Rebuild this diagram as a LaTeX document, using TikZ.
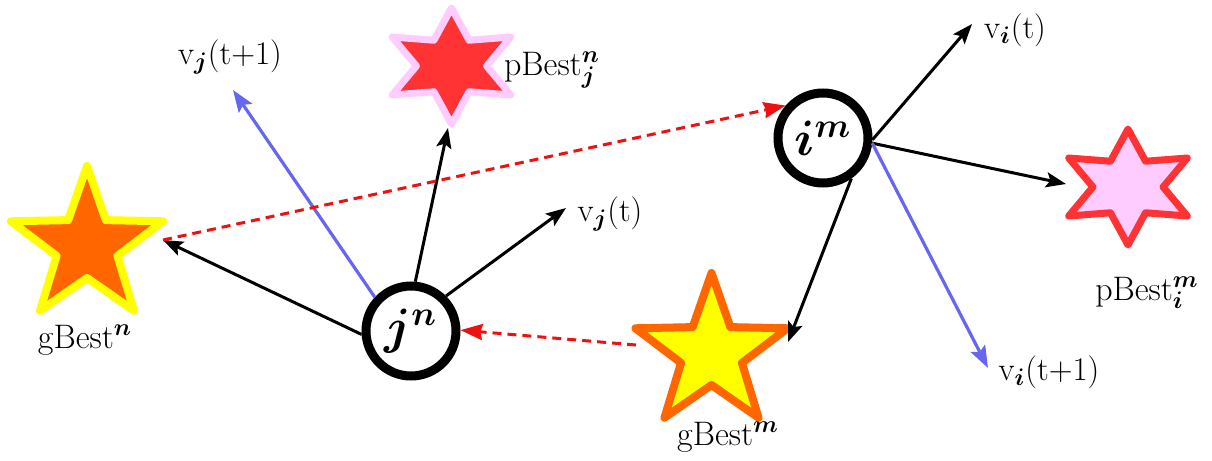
\documentclass[tikz,border=0pt]{standalone}
\usepackage{bm}
\usetikzlibrary{shapes.geometric,arrows.meta}
\definecolor{cOrange}{HTML}{FF6600}
\definecolor{cYellow}{HTML}{FFFF00}
\definecolor{cRed}{HTML}{FF3333}
\definecolor{cPink}{HTML}{FFCCFF}
\definecolor{cBlue}{HTML}{6666EE}
\definecolor{cDash}{HTML}{EE1111}
\begin{document}
\begin{tikzpicture}[x=0.5pt,y=-0.5pt,
  fivestar/.style={star,star points=5,star point ratio=2.5,minimum size=80pt,inner sep=0pt,line width=4pt,line join=round},
  sixstar/.style={star,star points=6,star point ratio=1.95,minimum size=58pt,inner sep=0pt,line width=3.5pt,line join=round,xscale=1.18},
  particle/.style={circle,draw=black,line width=4.5pt,fill=white,minimum size=45pt,inner sep=0pt,font=\fontsize{25}{29}\selectfont},
  vel/.style={draw=black,line width=1.5pt,-{Stealth[length=10pt,width=7.5pt,inset=2pt]}},
  newvel/.style={draw=cBlue,line width=1.6pt,-{Stealth[length=11pt,width=8pt,inset=2pt]}},
  social/.style={draw=cDash,line width=1.5pt,dash pattern=on 4.5pt off 3pt,-{Stealth[length=11pt,width=8pt,inset=1pt]}},
  lbl/.style={font=\fontsize{17}{20}\selectfont,inner sep=0pt},
  vlbl/.style={font=\fontsize{16.5}{19}\selectfont,inner sep=0pt}]
\useasboundingbox (0,0) rectangle (1212,461);
% stars
\node[fivestar,draw=cYellow,fill=cOrange] (gn) at (87,246) {};
\node[fivestar,draw=cOrange,fill=cYellow] (gm) at (711.5,353) {};
\node[sixstar,draw=cPink,fill=cRed] (pj) at (451.5,66) {};
\node[sixstar,draw=cRed,fill=cPink] (pi) at (1128,187) {};
% labels
\node[lbl] (lgn) at (85,340) {gBest$^{\bm n}$};
\node[lbl] (lgm) at (728,437) {gBest$^{\bm m}$};
\node[lbl] (lpj) at (552,70) {pBest$_{\bm j}^{\bm n}$};
\node[lbl] (lpi) at (1147,293) {pBest$_{\bm i}^{\bm m}$};
\node[vlbl] (lvjt) at (610,214) {v$_{\bm j}$(t)};
\node[vlbl] (lvjt1) at (230,57) {v$_{\bm j}$(t+1)};
\node[vlbl] (lvit) at (1015,30) {v$_{\bm i}$(t)};
\node[vlbl] (lvit1) at (1049,372) {v$_{\bm i}$(t+1)};
% end points
\coordinate (gnR) at (163,240);
\coordinate (pjB) at (448,128);
\coordinate (piL) at (1066,184);
\coordinate (gmR) at (788,342);
\coordinate (gmL) at (636,345);
\coordinate (vjt) at (566,208);
\coordinate (vjt1) at (233,90);
\coordinate (vit) at (972,24);
\coordinate (vit1) at (988,368);
% particles
\node[particle] (jn) at (411,331) {$\bm{j}^{\bm n}$};
\node[particle] (im) at (823,138) {$\bm{i}^{\bm m}$};
% connectors
\draw[vel] (jn.184) -- (gnR);
\draw[vel] (jn.85) -- (pjB);
\draw[vel] (jn.45) -- (vjt);
\draw[newvel] (jn.137) -- (vjt1);
\draw[social] (gnR) -- (im.139);
\draw[social] (gmL) -- (jn.1);
\draw[vel] (im.-2) -- (vit);
\draw[vel] (im.-6) -- (piL);
\draw[vel] (im.-55) -- (gmR);
\draw[newvel] (im.-6) -- (vit1);
\end{tikzpicture}
\end{document}
